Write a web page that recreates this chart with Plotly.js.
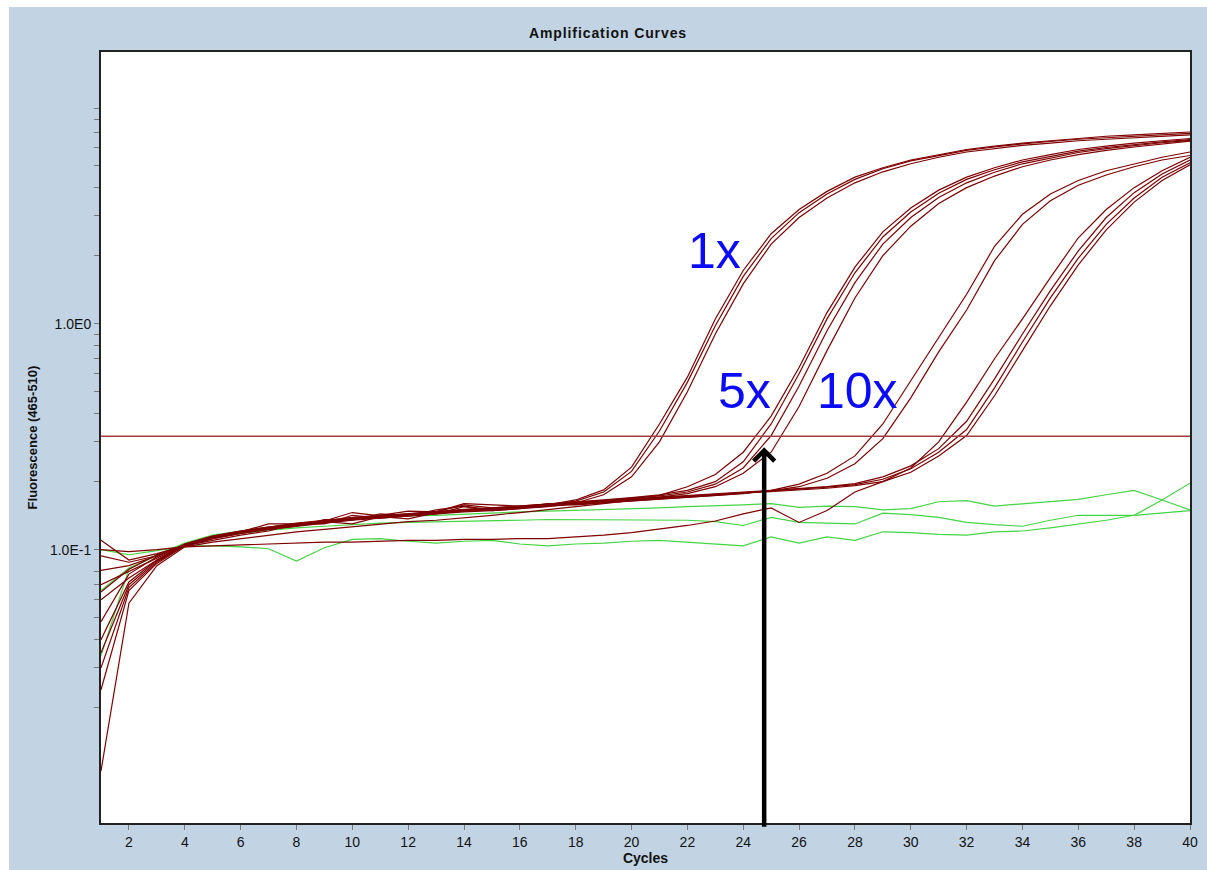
<!DOCTYPE html>
<html>
<head>
<meta charset="utf-8">
<script src="https://cdn.plot.ly/plotly-3.0.1.min.js"></script>
<style>
  html, body { margin: 0; padding: 0; background: #ffffff; }
  #chart { position: absolute; left: 9px; top: 7px; width: 1198px; height: 863px; }
  #chart .gtitle { letter-spacing: 0.9px; }
</style>
</head>
<body>
<div id="chart"></div>
<script>
// ---------------- data ----------------
const chartTitle = 'Amplification Curves';
const xTitle = 'Cycles';
const yTitle = 'Fluorescence (465-510)';

const cycles = [1,2,3,4,5,6,7,8,9,10,11,12,13,14,15,16,17,18,19,20,
                21,22,23,24,25,26,27,28,29,30,31,32,33,34,35,36,37,38,39,40];

// 1x samples
const s1x_a = [0.048,0.078,0.093,0.106,0.115,0.121,0.126,0.131,0.135,0.139,0.142,0.148,0.147,0.158,0.153,0.155,0.158,0.166,0.184,0.232,
               0.36,0.58,1.05,1.72,2.5,3.2,3.85,4.45,4.9,5.3,5.6,5.9,6.1,6.3,6.45,6.6,6.75,6.85,6.95,7.05];
const s1x_b = [0.065,0.082,0.095,0.105,0.114,0.12,0.125,0.129,0.133,0.137,0.14,0.143,0.146,0.149,0.151,0.154,0.157,0.164,0.18,0.222,
               0.335,0.55,0.98,1.62,2.38,3.1,3.75,4.35,4.85,5.25,5.55,5.85,6.05,6.25,6.4,6.55,6.65,6.75,6.85,6.95];
const s1x_c = [0.081,0.085,0.094,0.104,0.112,0.118,0.123,0.127,0.131,0.135,0.138,0.141,0.144,0.147,0.149,0.152,0.155,0.161,0.175,0.21,
               0.30,0.5,0.9,1.5,2.25,2.95,3.6,4.2,4.7,5.1,5.45,5.75,5.95,6.15,6.3,6.45,6.55,6.65,6.75,6.85];
// 5x samples
const s5x_a = [0.11,0.09,0.096,0.104,0.11,0.116,0.121,0.13,0.13,0.142,0.138,0.141,0.15,0.156,0.15,0.153,0.156,0.16,0.164,0.168,
               0.174,0.19,0.215,0.27,0.39,0.64,1.12,1.78,2.55,3.25,3.9,4.45,4.9,5.3,5.6,5.9,6.1,6.3,6.45,6.6];
const s5x_b = [0.04,0.072,0.09,0.106,0.115,0.121,0.126,0.13,0.134,0.138,0.141,0.144,0.147,0.151,0.153,0.156,0.159,0.162,0.166,0.17,
               0.175,0.183,0.2,0.245,0.36,0.6,1.05,1.68,2.42,3.12,3.78,4.35,4.8,5.2,5.5,5.8,6.02,6.22,6.38,6.52];
const s5x_c = [0.03,0.068,0.088,0.105,0.114,0.12,0.125,0.129,0.133,0.137,0.14,0.143,0.146,0.15,0.152,0.155,0.158,0.161,0.165,0.169,
               0.173,0.18,0.195,0.23,0.32,0.53,0.93,1.52,2.25,2.95,3.62,4.2,4.68,5.1,5.42,5.72,5.95,6.15,6.32,6.48];
const s5x_d = [0.0105,0.058,0.085,0.103,0.108,0.112,0.116,0.12,0.123,0.126,0.13,0.133,0.135,0.138,0.142,0.146,0.15,0.155,0.16,0.165,
               0.171,0.177,0.19,0.218,0.27,0.43,0.76,1.3,2.0,2.7,3.4,4.0,4.5,4.95,5.3,5.6,5.85,6.05,6.25,6.42];
// 10x samples
const s10x_a = [0.094,0.088,0.094,0.104,0.112,0.118,0.123,0.127,0.136,0.135,0.144,0.141,0.144,0.155,0.149,0.152,0.16,0.158,0.161,0.164,
                0.167,0.17,0.173,0.177,0.183,0.195,0.218,0.26,0.36,0.56,0.88,1.35,2.2,3.05,3.75,4.3,4.75,5.1,5.45,5.75];
const s10x_b = [0.07,0.08,0.092,0.105,0.113,0.119,0.124,0.128,0.132,0.136,0.139,0.142,0.145,0.148,0.15,0.153,0.156,0.159,0.162,0.165,
                0.168,0.171,0.174,0.178,0.182,0.19,0.207,0.24,0.31,0.47,0.75,1.15,1.9,2.75,3.5,4.1,4.55,4.95,5.3,5.55];
// latest samples
const sLate_a = [0.1,0.098,0.1,0.103,0.104,0.105,0.106,0.107,0.108,0.108,0.109,0.11,0.11,0.111,0.111,0.112,0.112,0.114,0.116,0.119,
                 0.123,0.128,0.134,0.144,0.153,0.132,0.149,0.18,0.2,0.23,0.3,0.45,0.7,1.05,1.6,2.4,3.2,4.0,4.75,5.45];
const sLate_b = [0.06,0.075,0.09,0.104,0.113,0.12,0.13,0.13,0.134,0.146,0.141,0.144,0.147,0.16,0.158,0.156,0.159,0.162,0.165,0.168,
                 0.171,0.174,0.177,0.18,0.183,0.186,0.19,0.196,0.21,0.235,0.28,0.37,0.57,0.9,1.4,2.1,2.95,3.8,4.6,5.3];
const sLate_c = [0.035,0.07,0.089,0.105,0.114,0.12,0.125,0.129,0.133,0.13,0.14,0.137,0.146,0.15,0.152,0.155,0.158,0.161,0.164,0.167,
                 0.17,0.173,0.176,0.179,0.182,0.185,0.189,0.194,0.205,0.228,0.27,0.34,0.52,0.83,1.3,1.95,2.75,3.6,4.45,5.15];
const sLate_d = [0.024,0.066,0.087,0.104,0.113,0.119,0.124,0.128,0.132,0.136,0.139,0.142,0.145,0.149,0.151,0.154,0.157,0.16,0.163,0.166,
                 0.169,0.172,0.175,0.178,0.181,0.184,0.187,0.192,0.2,0.22,0.26,0.32,0.48,0.76,1.2,1.82,2.6,3.45,4.3,5.05];
// negative controls (green)
const neg_a = [0.034,0.082,0.095,0.107,0.116,0.121,0.126,0.129,0.133,0.136,0.139,0.141,0.142,0.144,0.146,0.147,0.148,0.149,0.15,0.152,
               0.153,0.155,0.156,0.158,0.16,0.154,0.156,0.155,0.15,0.152,0.163,0.165,0.156,0.16,0.163,0.167,0.175,0.183,0.166,0.15];
const neg_b = [0.066,0.083,0.094,0.105,0.113,0.118,0.122,0.125,0.127,0.129,0.131,0.132,0.133,0.134,0.135,0.135,0.136,0.136,0.136,0.135,
               0.136,0.135,0.133,0.128,0.139,0.132,0.131,0.13,0.145,0.143,0.139,0.132,0.129,0.127,0.135,0.142,0.142,0.142,0.166,0.197];
const neg_c = [0.1,0.095,0.099,0.104,0.104,0.103,0.101,0.089,0.102,0.111,0.112,0.109,0.107,0.109,0.11,0.106,0.104,0.106,0.107,0.109,
               0.11,0.108,0.106,0.104,0.114,0.107,0.114,0.11,0.12,0.119,0.117,0.116,0.12,0.121,0.125,0.13,0.135,0.142,0.146,0.149];

const threshold = 0.318;

const xTicks = [2,4,6,8,10,12,14,16,18,20,22,24,26,28,30,32,34,36,38,40];
const yTickVals = [0.02,0.03,0.04,0.05,0.06,0.07,0.08,0.1,0.2,0.3,0.4,0.5,0.6,0.7,0.8,0.9,1,2,3,4,5,6,7,8,9];
const yTickText = ['','','','','','','','1.0E-1','','','','','','','','','1.0E0','','','','','','','',''];

const labelText  = ['1x', '5x', '10x'];
const labelCycle = [22.96, 24.03, 28.08];
const labelValue = [2.1, 0.503, 0.503];

const arrowCycle = 24.75;
const arrowTipValue = 0.284;

// ---------------- traces ----------------
const BROWN = '#7e0000';
const GREEN = '#44d444';
const positives = [s1x_a, s1x_b, s1x_c, s5x_a, s5x_b, s5x_c, s5x_d, s10x_a, s10x_b, sLate_a, sLate_b, sLate_c, sLate_d];
const negatives = [neg_a, neg_b, neg_c];

const traces = [];
negatives.forEach(v => traces.push({x: cycles, y: v, type: 'scatter', mode: 'lines',
  line: {color: GREEN, width: 1.2}, hoverinfo: 'skip'}));
positives.forEach(v => traces.push({x: cycles, y: v, type: 'scatter', mode: 'lines',
  line: {color: BROWN, width: 1.2}, hoverinfo: 'skip'}));
traces.push({x: [cycles[0], cycles[cycles.length - 1]], y: [threshold, threshold], type: 'scatter', mode: 'lines',
  line: {color: '#a03c3c', width: 1.5}, hoverinfo: 'skip'});

const FONT = 'Liberation Sans, Arial, Helvetica, sans-serif';

const annotations = labelText.map((t, i) => ({
  x: labelCycle[i], y: Math.log10(labelValue[i]), xref: 'x', yref: 'y',
  text: t, showarrow: false,
  font: {family: FONT, size: 50, color: '#0a0aff'}
}));
annotations.push({
  x: arrowCycle, y: Math.log10(arrowTipValue), xref: 'x', yref: 'y',
  ax: 0, ay: 381, axref: 'pixel', ayref: 'pixel',
  text: '', showarrow: true, arrowhead: 4, arrowsize: 0.9, arrowwidth: 4.5, arrowcolor: '#000000'
});

const layout = {
  width: 1198, height: 863,
  margin: {l: 92, r: 17, t: 45, b: 47},
  paper_bgcolor: '#c2d4e4',
  plot_bgcolor: '#ffffff',
  showlegend: false,
  font: {family: FONT, color: '#111111'},
  title: {text: chartTitle, font: {family: FONT, size: 14, weight: 'bold', color: '#111'},
          x: 0.5, xref: 'container', xanchor: 'center', y: 1 - 26/863, yref: 'container', yanchor: 'middle'},
  xaxis: {
    range: [1, 40], tickvals: xTicks, ticks: 'outside', ticklen: 5, tickcolor: '#777', tickwidth: 1,
    showgrid: false, zeroline: false, showline: true, linecolor: '#222', linewidth: 2, mirror: true,
    tickfont: {family: FONT, size: 14, color: '#111'},
    title: {text: xTitle, font: {family: FONT, size: 14, weight: 'bold', color: '#111'}, standoff: 4}
  },
  yaxis: {
    type: 'log', range: [-2.2093, 1.2022], tickvals: yTickVals, ticktext: yTickText,
    ticks: 'outside', ticklen: 5, tickcolor: '#777', tickwidth: 1,
    showgrid: false, zeroline: false, showline: true, linecolor: '#222', linewidth: 2, mirror: true,
    tickfont: {family: FONT, size: 14, color: '#111'},
    title: {text: yTitle, font: {family: FONT, size: 13, weight: 'bold', color: '#111'}, standoff: 9}
  },
  annotations: annotations
};

Plotly.newPlot('chart', traces, layout, {displayModeBar: false, staticPlot: true});
</script>
</body>
</html>
